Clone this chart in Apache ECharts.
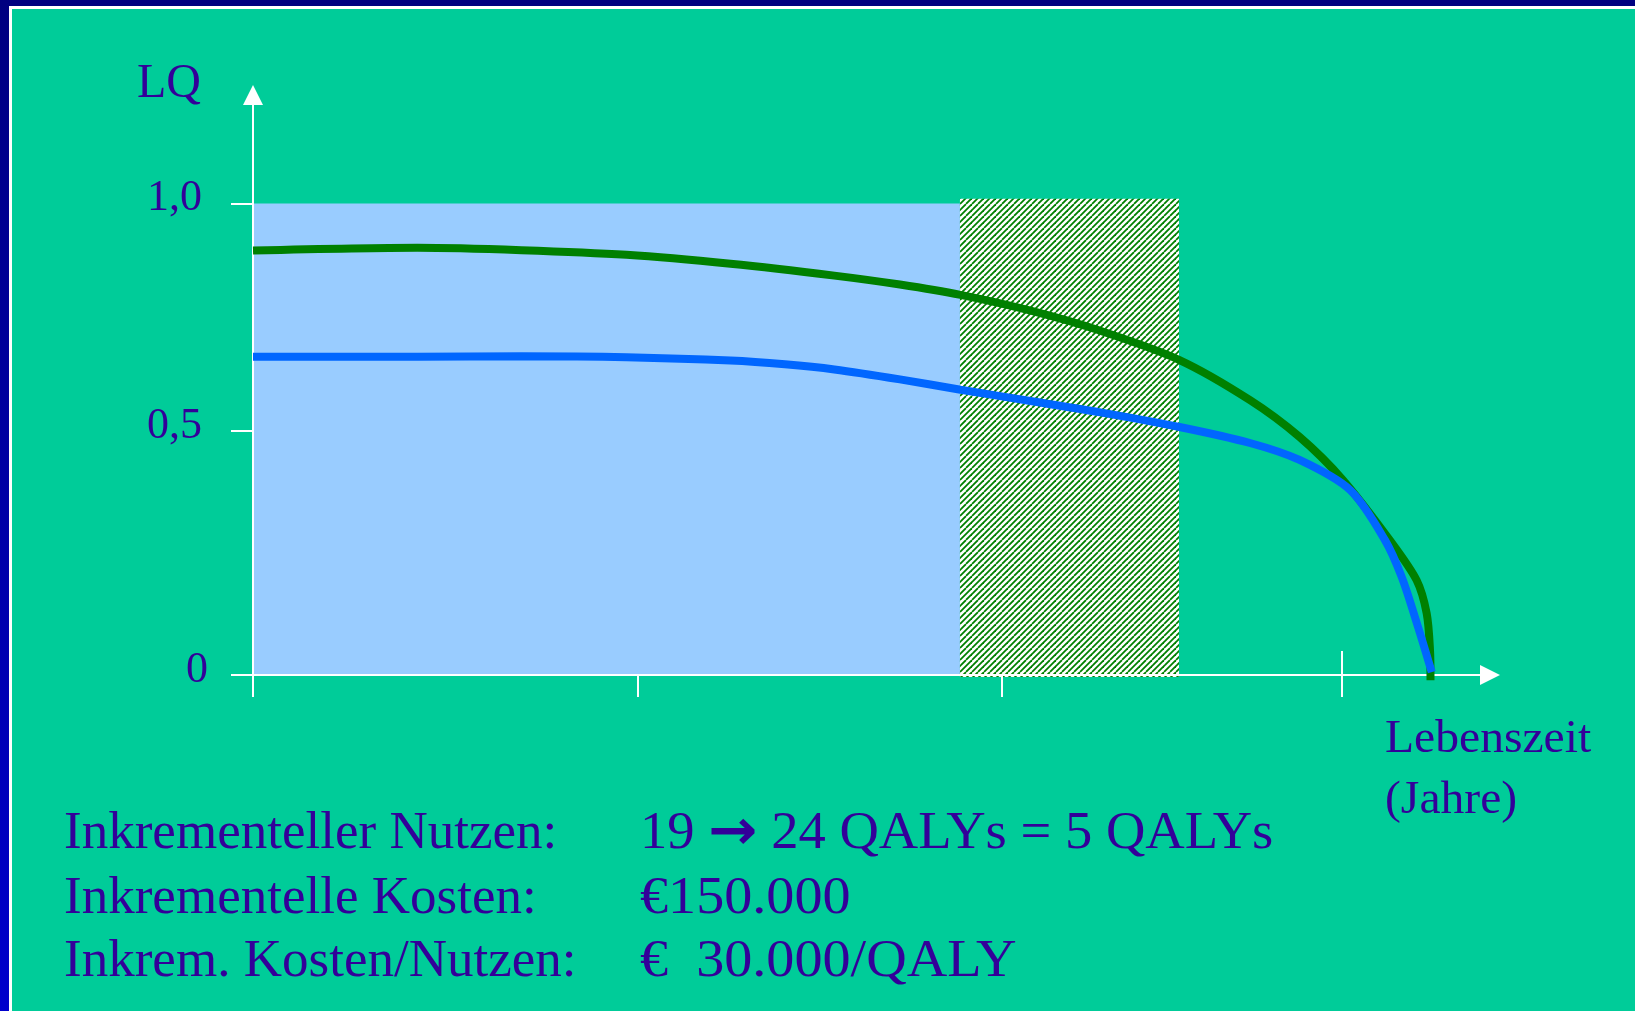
<!DOCTYPE html>
<html><head><meta charset="utf-8">
<script src="https://cdn.jsdelivr.net/npm/echarts@6/dist/echarts.min.js"></script>
<style>html,body{margin:0;padding:0;background:#00CC99;}#chart{width:1635px;height:1011px;}</style>
</head><body><div id="chart"></div>
<script>
// x: life time (arbitrary units 0..100), y: quality of life (LQ)
const greenX = [0, 13.3, 21.7, 30.2, 38.6, 47.0, 52.3, 57.2, 63.1, 68.5, 74.9, 80.6, 84.6, 88.1, 91.9, 94.07, 94.88, 95.15, 95.19];
const greenY = [0.900, 0.906, 0.901, 0.891, 0.872, 0.847, 0.828, 0.806, 0.771, 0.730, 0.668, 0.583, 0.505, 0.414, 0.286, 0.201, 0.131, 0.053, -0.011];
const blueX  = [0, 13.3, 21.7, 30.2, 38.6, 43.0, 47.0, 52.3, 57.2, 63.1, 68.5, 74.9, 80.6, 84.6, 88.7, 91.51, 92.86, 94.18, 95.29];
const blueY  = [0.675, 0.675, 0.676, 0.674, 0.667, 0.659, 0.648, 0.627, 0.605, 0.580, 0.557, 0.526, 0.492, 0.456, 0.392, 0.286, 0.208, 0.102, 0.006];
const baseRect  = [0, 57.15, 0, 1.0];          // [x0, x1, y0, y1] light-blue block
const hatchRect = [57.15, 74.86, -0.004, 1.01]; // hatched incremental block
const xTickValues = [0, 31.1, 60.5, 88.0];
const yTickValues = [0, 0.5175, 1.0];
const yTickLabels = ['0', '0,5', '1,0'];
const textLeft  = ['Inkrementeller Nutzen:', 'Inkrementelle Kosten:', 'Inkrem. Kosten/Nutzen:'];
const textRight = ['19 {a|→} 24 QALYs = 5 QALYs', '€150.000', '€  30.000/QALY'];

const TXT = '#330099';
const SERIF = '"Liberation Serif", "Times New Roman", serif';

function hatchCanvas() {
  const T = 12, p = 6;
  const c = document.createElement('canvas');
  c.width = T; c.height = T;
  const g = c.getContext('2d');
  g.fillStyle = '#ffffff'; g.fillRect(0, 0, T, T);
  g.strokeStyle = '#008000'; g.lineWidth = 1.8;
  for (let o = -2 * T; o <= 2 * T; o += p) {
    g.beginPath(); g.moveTo(o, T); g.lineTo(o + T, 0); g.stroke();
  }
  return c;
}
const pattern = { image: hatchCanvas(), repeat: 'repeat' };

function rectSeries(data, fill) {
  return {
    type: 'custom', z: 1, clip: false, silent: true,
    renderItem: function (params, api) {
      const p0 = api.coord([api.value(0), api.value(3)]);
      const p1 = api.coord([api.value(1), api.value(2)]);
      return { type: 'rect', shape: { x: p0[0], y: p0[1], width: p1[0] - p0[0], height: p1[1] - p0[1] }, style: { fill: fill } };
    },
    encode: { x: [0, 1], y: [2, 3] },
    data: [data]
  };
}

const chart = echarts.init(document.getElementById('chart'), null, { renderer: 'canvas' });
const lineH = [834, 899, 962];
const rightScale = [1.05, 1.08, 1.08];
const graphics = [
  { type: 'rect', shape: { x: 0, y: 0, width: 1635, height: 6 }, style: { fill: '#000080' } },
  { type: 'rect', shape: { x: 0, y: 0, width: 9, height: 1011 }, style: { fill: new echarts.graphic.LinearGradient(0, 0, 0, 1, [{ offset: 0, color: '#000080' }, { offset: 1, color: '#0000CC' }]) } },
  { type: 'rect', shape: { x: 9, y: 6, width: 1626, height: 3 }, style: { fill: '#ffffff' } },
  { type: 'rect', shape: { x: 9, y: 6, width: 3, height: 1005 }, style: { fill: '#ffffff' } },
  { type: 'text', x: 137, y: 84.5, style: { text: 'LQ', font: '48px ' + SERIF, fill: TXT, verticalAlign: 'middle' } },
  { type: 'text', x: 1385, y: 740, scaleX: 1.035, style: { text: 'Lebenszeit', font: '46px ' + SERIF, fill: TXT, verticalAlign: 'middle' } },
  { type: 'text', x: 1385, y: 801, scaleX: 1.035, style: { text: '(Jahre)', font: '46px ' + SERIF, fill: TXT, verticalAlign: 'middle' } }
];
textLeft.forEach(function (t, i) {
  graphics.push({ type: 'text', x: 64, y: lineH[i], scaleX: 1.02, style: { text: t, font: '52px ' + SERIF, fill: TXT, verticalAlign: 'middle' } });
});
textRight.forEach(function (t, i) {
  graphics.push({ type: 'text', x: 640, y: lineH[i], scaleX: rightScale[i], style: { text: t, font: '52px ' + SERIF, fill: TXT, verticalAlign: 'middle',
    rich: { a: { font: 'bold 56px "DejaVu Sans"', fill: TXT } } } });
});

const option = {
  backgroundColor: '#00CC99',
  animation: false,
  grid: { left: 253, right: 145, top: 95, bottom: 336, containLabel: false, outerBoundsMode: 'none' },
  xAxis: [{
    type: 'value', min: 0, max: 100, position: 'bottom', z: 3,
    axisLine: { show: true, onZero: false, symbol: ['none', 'triangle'], symbolSize: [20, 20], lineStyle: { color: '#ffffff', width: 2 } },
    axisTick: { show: true, inside: false, length: 22, customValues: xTickValues, lineStyle: { color: '#ffffff', width: 2 } },
    axisLabel: { show: false }, splitLine: { show: false }
  }, {
    type: 'value', min: 0, max: 100, position: 'bottom', z: 3,
    axisLine: { show: false },
    axisTick: { show: true, inside: true, length: 24, customValues: [xTickValues[3]], lineStyle: { color: '#ffffff', width: 2 } },
    axisLabel: { show: false }, splitLine: { show: false }
  }],
  yAxis: {
    type: 'value', min: 0, max: 1.23, z: 3,
    axisLine: { show: true, onZero: false, symbol: ['none', 'triangle'], symbolSize: [20, 20], lineStyle: { color: '#ffffff', width: 2 } },
    axisTick: { show: true, inside: false, length: 22, customValues: yTickValues, lineStyle: { color: '#ffffff', width: 2 } },
    axisLabel: {
      show: true, customValues: yTickValues, margin: 45,
      formatter: function (v) {
        const i = yTickValues.indexOf(v);
        const s = i >= 0 ? yTickLabels[i] : '';
        return s === '0' ? '{z|' + s + '}' : '{n|' + s + '}';
      },
      rich: {
        n: { fontFamily: 'Liberation Serif', fontSize: 44, color: TXT, padding: [0, 6, 10, 0] },
        z: { fontFamily: 'Liberation Serif', fontSize: 44, color: TXT, padding: [0, 0, 10, 0] }
      }
    },
    splitLine: { show: false }
  },
  series: [
    rectSeries(baseRect, '#99CCFF'),
    rectSeries(hatchRect, pattern),
    { type: 'line', z: 4, clip: false, showSymbol: false, smooth: 0.3, silent: true,
      lineStyle: { color: '#008000', width: 8 }, data: greenX.map((x, i) => [x, greenY[i]]) },
    { type: 'line', z: 5, clip: false, showSymbol: false, smooth: 0.3, silent: true,
      lineStyle: { color: '#0066FF', width: 8 }, data: blueX.map((x, i) => [x, blueY[i]]) }
  ],
  graphic: graphics
};
chart.setOption(option);
</script></body></html>
